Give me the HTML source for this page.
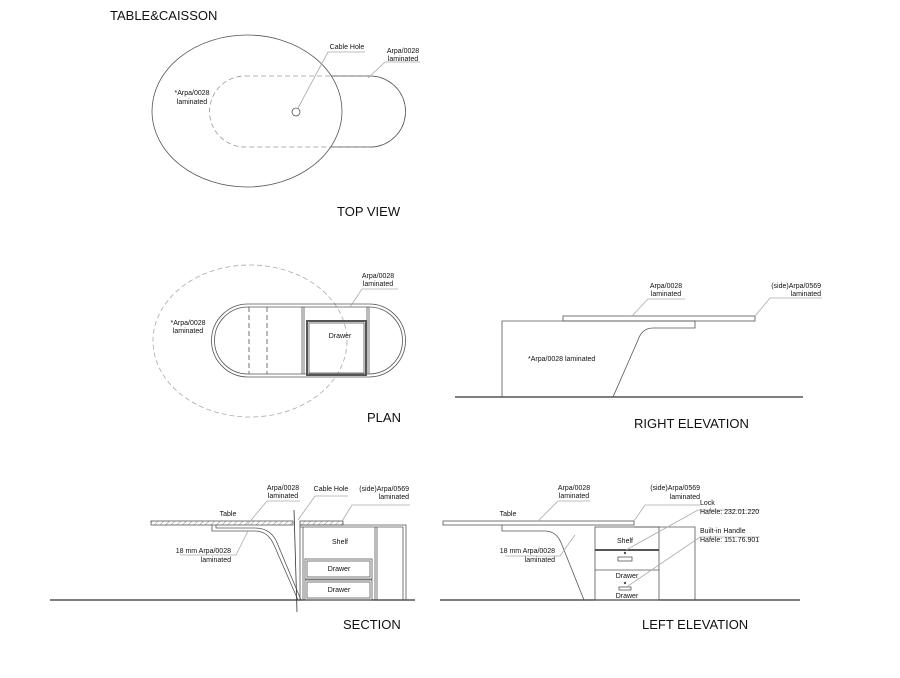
<!DOCTYPE html>
<html><head><meta charset="utf-8"><style>
html,body{margin:0;padding:0;background:#fff;}
svg{display:block;}
text{font-family:"Liberation Sans",sans-serif;fill:#111;}
.s{font-size:7px;}
.t{font-size:13px;}
</style></head><body>
<svg width="900" height="678" viewBox="0 0 900 678" xmlns="http://www.w3.org/2000/svg">
<defs>
<mask id="outE"><rect width="900" height="678" fill="#fff"/><ellipse cx="247" cy="111" rx="95" ry="76" fill="#000"/></mask>
<pattern id="h" width="4" height="4" patternUnits="userSpaceOnUse" patternTransform="rotate(45)"><line x1="0" y1="0" x2="0" y2="4" stroke="#888" stroke-width="1"/></pattern>
</defs>
<g fill="none" stroke="#555" stroke-width="0.8">
<!-- TOP VIEW -->
<ellipse cx="247" cy="111" rx="95" ry="76"/>
<path d="M245 76 H370 A35.5 35.5 0 0 1 370 147 H245 A35.5 35.5 0 0 1 245 76 Z" stroke-dasharray="5,3" stroke="#999"/>
<path d="M245 76 H370 A35.5 35.5 0 0 1 370 147 H245 A35.5 35.5 0 0 1 245 76 Z" mask="url(#outE)"/>
<circle cx="296" cy="112" r="4"/>
<path d="M298 108 L328 52 H365" stroke="#aaa"/>
<path d="M368 78 L385 62 H420" stroke="#aaa"/>
<!-- PLAN -->
<ellipse cx="250" cy="341" rx="97" ry="76" stroke="#aaa" stroke-dasharray="5,3"/>
<path d="M248 304 H369 A36.5 36.5 0 0 1 369 377 H248 A36.5 36.5 0 0 1 248 304 Z"/>
<path d="M248 307 H369 A33.5 33.5 0 0 1 369 374 H248 A33.5 33.5 0 0 1 248 307 Z"/>
<line x1="249" y1="307" x2="249" y2="374" stroke-dasharray="5,3"/>
<line x1="267" y1="307" x2="267" y2="374" stroke-dasharray="5,3"/>
<line x1="302" y1="307" x2="302" y2="374"/><line x1="304" y1="307" x2="304" y2="374"/>
<line x1="367" y1="307" x2="367" y2="374"/><line x1="369" y1="307" x2="369" y2="374"/>
<rect x="307" y="321" width="59" height="54" stroke-width="2"/>
<rect x="309" y="323" width="55" height="50"/>
<path d="M350 307 L362 289 H398" stroke="#aaa"/>
<!-- RIGHT ELEVATION -->
<line x1="455" y1="397" x2="803" y2="397" stroke="#333" stroke-width="1.3"/>
<path d="M502 397 V321 H563"/>
<rect x="563" y="316" width="192" height="5"/>
<path d="M563 321 H695 V328 H653 Q642 328 638 340 L613 397"/>
<path d="M632 316 L648 299 H685" stroke="#aaa"/>
<path d="M755 316 L770 298 H822" stroke="#aaa"/>
<!-- SECTION -->
<line x1="50" y1="600" x2="415" y2="600" stroke="#333" stroke-width="1.3"/>
<rect x="151" y="521" width="142" height="4" fill="url(#h)"/>
<rect x="300" y="521" width="43" height="4" fill="url(#h)"/>
<path d="M212 525 V531 H255 Q268 531 274 545 L298 600"/>
<path d="M216 525 V528 H255 Q272 528 278 545 L301 600"/>
<path d="M294 510 L297 612" stroke="#333"/>
<path d="M300 525 H406 V600"/><path d="M300 527 H403 V600"/>
<line x1="300" y1="525" x2="300" y2="600"/><line x1="303" y1="527" x2="303" y2="600"/>
<line x1="375" y1="527" x2="375" y2="600"/><line x1="377" y1="527" x2="377" y2="600"/>
<rect x="305" y="559" width="67" height="20"/><rect x="307" y="561" width="63" height="16"/>
<rect x="305" y="580" width="67" height="20"/><rect x="307" y="582" width="63" height="16"/>
<path d="M247 525 L267 501 H300" stroke="#aaa"/>
<path d="M298 520 L315 496 H348" stroke="#aaa"/>
<path d="M342 521 L352 505 H410" stroke="#aaa"/>
<path d="M248 531 L236 555 H180" stroke="#aaa"/>
<!-- LEFT ELEVATION -->
<line x1="440" y1="600" x2="800" y2="600" stroke="#333" stroke-width="1.3"/>
<rect x="443" y="521" width="191" height="4"/>
<path d="M502 525 V531 H545 Q557 531 562 545 L584 600"/>
<path d="M634 527 H695 V600"/>
<rect x="595" y="527" width="64" height="73"/>
<line x1="595" y1="550" x2="659" y2="550" stroke-width="2"/>
<line x1="595" y1="570" x2="659" y2="570"/>
<rect x="618" y="557" width="14" height="4"/><rect x="619" y="587" width="12" height="3"/>
<circle cx="625" cy="553" r="0.8" fill="#333"/><circle cx="625" cy="583" r="0.8" fill="#333"/>
<path d="M538 521 L558 501 H590" stroke="#aaa"/>
<path d="M634 521 L645 505 H700" stroke="#aaa"/>
<path d="M575 535 L560 556 H505" stroke="#aaa"/>
<path d="M626 550 L698 510 H760" stroke="#aaa"/>
<path d="M628 586 L700 537 H760" stroke="#aaa"/>
</g>
<text x="110" y="20" class="t">TABLE&amp;CAISSON</text>
<text x="347" y="49" class="s" text-anchor="middle">Cable Hole</text>
<text x="403" y="53" class="s" text-anchor="middle">Arpa/0028</text>
<text x="403" y="61" class="s" text-anchor="middle">laminated</text>
<text x="192" y="95" class="s" text-anchor="middle">*Arpa/0028</text>
<text x="192" y="104" class="s" text-anchor="middle">laminated</text>
<text x="337" y="216" class="t">TOP VIEW</text>
<text x="378" y="278" class="s" text-anchor="middle">Arpa/0028</text>
<text x="378" y="286" class="s" text-anchor="middle">laminated</text>
<text x="188" y="325" class="s" text-anchor="middle">*Arpa/0028</text>
<text x="188" y="333" class="s" text-anchor="middle">laminated</text>
<text x="340" y="338" class="s" text-anchor="middle">Drawer</text>
<text x="367" y="422" class="t">PLAN</text>
<text x="666" y="288" class="s" text-anchor="middle">Arpa/0028</text>
<text x="666" y="296" class="s" text-anchor="middle">laminated</text>
<text x="821" y="288" class="s" text-anchor="end">(side)Arpa/0569</text>
<text x="821" y="296" class="s" text-anchor="end">laminated</text>
<text x="528" y="361" class="s">*Arpa/0028 laminated</text>
<text x="634" y="428" class="t">RIGHT ELEVATION</text>
<text x="283" y="490" class="s" text-anchor="middle">Arpa/0028</text>
<text x="283" y="498" class="s" text-anchor="middle">laminated</text>
<text x="331" y="491" class="s" text-anchor="middle">Cable Hole</text>
<text x="409" y="491" class="s" text-anchor="end">(side)Arpa/0569</text>
<text x="409" y="499" class="s" text-anchor="end">laminated</text>
<text x="228" y="516" class="s" text-anchor="middle">Table</text>
<text x="231" y="553" class="s" text-anchor="end">18 mm Arpa/0028</text>
<text x="231" y="562" class="s" text-anchor="end">laminated</text>
<text x="340" y="544" class="s" text-anchor="middle">Shelf</text>
<text x="339" y="571" class="s" text-anchor="middle">Drawer</text>
<text x="339" y="592" class="s" text-anchor="middle">Drawer</text>
<text x="343" y="629" class="t">SECTION</text>
<text x="574" y="490" class="s" text-anchor="middle">Arpa/0028</text>
<text x="574" y="498" class="s" text-anchor="middle">laminated</text>
<text x="700" y="490" class="s" text-anchor="end">(side)Arpa/0569</text>
<text x="700" y="499" class="s" text-anchor="end">laminated</text>
<text x="508" y="516" class="s" text-anchor="middle">Table</text>
<text x="555" y="553" class="s" text-anchor="end">18 mm Arpa/0028</text>
<text x="555" y="562" class="s" text-anchor="end">laminated</text>
<text x="700" y="505" class="s">Lock</text>
<text x="700" y="514" class="s">Hafele: 232.01.220</text>
<text x="700" y="533" class="s">Built-in Handle</text>
<text x="700" y="542" class="s">Hafele: 151.76.901</text>
<text x="625" y="543" class="s" text-anchor="middle">Shelf</text>
<text x="627" y="578" class="s" text-anchor="middle">Drawer</text>
<text x="627" y="598" class="s" text-anchor="middle">Drawer</text>
<text x="642" y="629" class="t">LEFT ELEVATION</text>
</svg>
</body></html>
